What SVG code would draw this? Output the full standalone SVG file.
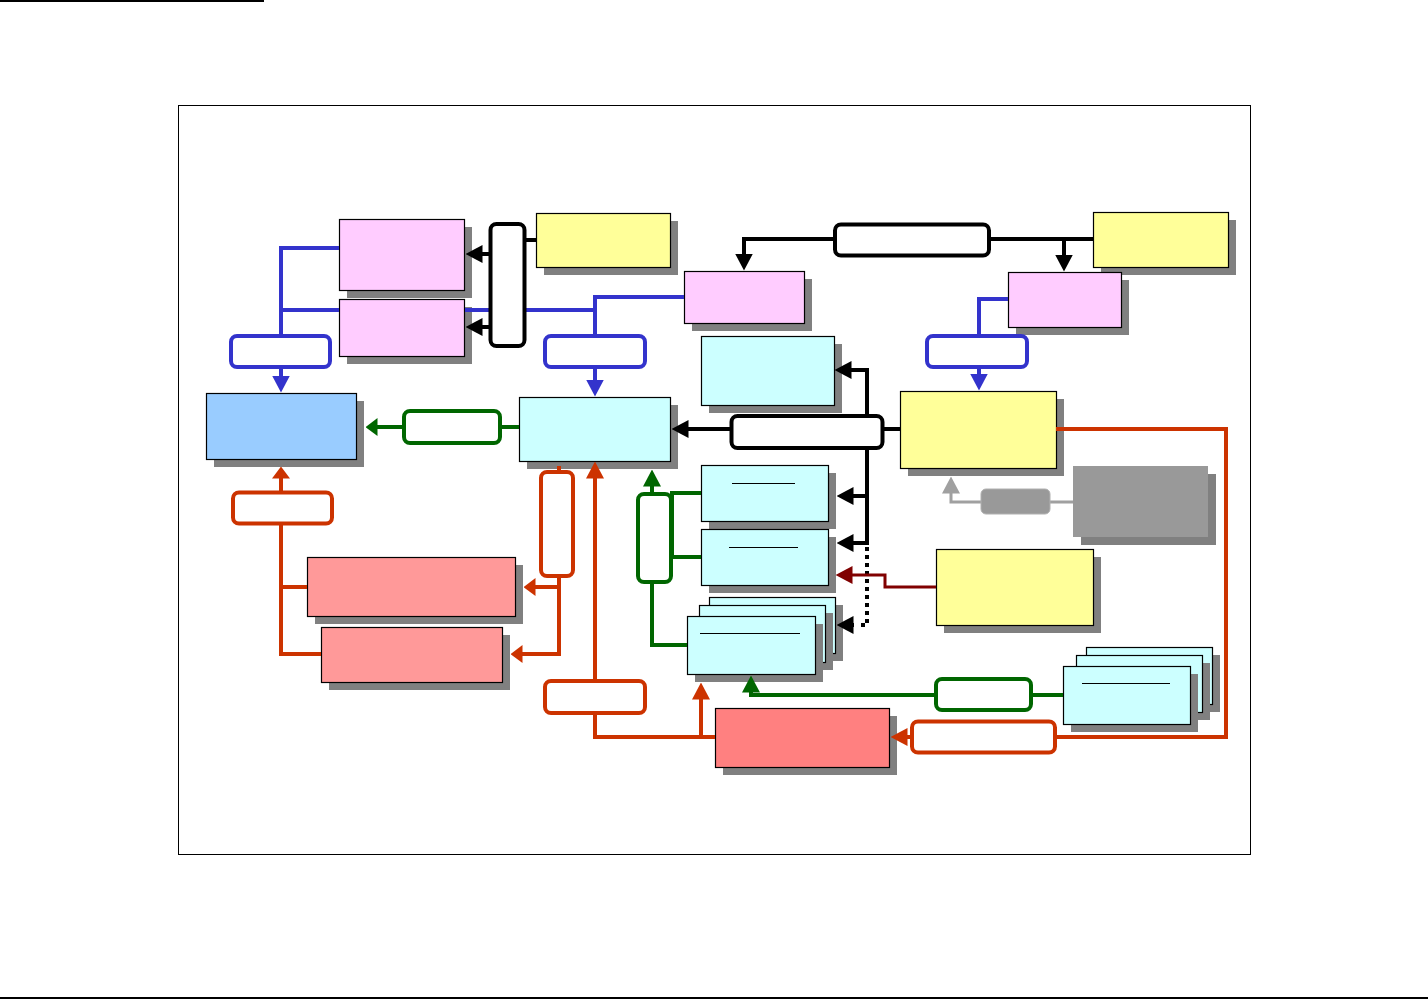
<svg xmlns="http://www.w3.org/2000/svg" width="1428" height="999" viewBox="0 0 1428 999">
<style>
.sh{fill:#808080}
.bx{stroke:#000;stroke-width:1.2}
.pk{fill:#FFCCFF}.yl{fill:#FFFF99}.cy{fill:#CCFFFF}.lb{fill:#99CCFF}.pr{fill:#FF9999}.rd{fill:#FF8080}.gy{fill:#999999}
.c{fill:none;stroke-width:4;stroke-linejoin:miter}
.bl{stroke:#3333CC}.bk{stroke:#000}.gn{stroke:#006600}.re{stroke:#CC3300}.dr{stroke:#800000;stroke-width:3}.gr{stroke:#A0A0A0;stroke-width:3}
.pill{fill:#fff;stroke-width:4}
.ul{stroke:#000;stroke-width:1}
</style>
<defs>
<marker id="aBl" viewBox="0 0 17 18" markerWidth="17" markerHeight="18" refX="0.5" refY="9" orient="auto" markerUnits="userSpaceOnUse"><path d="M0,0 L17,9 L0,18 z" fill="#3333CC"/></marker>
<marker id="aBk" viewBox="0 0 17 18" markerWidth="17" markerHeight="18" refX="0.5" refY="9" orient="auto" markerUnits="userSpaceOnUse"><path d="M0,0 L17,9 L0,18 z" fill="#000"/></marker>
<marker id="aGn" viewBox="0 0 17 18" markerWidth="17" markerHeight="18" refX="0.5" refY="9" orient="auto" markerUnits="userSpaceOnUse"><path d="M0,0 L17,9 L0,18 z" fill="#006600"/></marker>
<marker id="aRe" viewBox="0 0 17 18" markerWidth="17" markerHeight="18" refX="0.5" refY="9" orient="auto" markerUnits="userSpaceOnUse"><path d="M0,0 L17,9 L0,18 z" fill="#CC3300"/></marker>
<marker id="aGnS" viewBox="0 0 12 18" markerWidth="12" markerHeight="18" refX="0.5" refY="9" orient="auto" markerUnits="userSpaceOnUse"><path d="M0,0 L12,9 L0,18 z" fill="#006600"/></marker>
<marker id="aReS" viewBox="0 0 12 18" markerWidth="12" markerHeight="18" refX="0.5" refY="9" orient="auto" markerUnits="userSpaceOnUse"><path d="M0,0 L12,9 L0,18 z" fill="#CC3300"/></marker>
<marker id="aDr" viewBox="0 0 17 18" markerWidth="17" markerHeight="18" refX="0.5" refY="9" orient="auto" markerUnits="userSpaceOnUse"><path d="M0,0 L17,9 L0,18 z" fill="#800000"/></marker>
<marker id="aGr" viewBox="0 0 17 18" markerWidth="17" markerHeight="18" refX="0.5" refY="9" orient="auto" markerUnits="userSpaceOnUse"><path d="M0,0 L17,9 L0,18 z" fill="#A0A0A0"/></marker>
</defs>
<rect width="1428" height="999" fill="#fff"/>
<line x1="0" y1="1" x2="264" y2="1" stroke="#000" stroke-width="2"/>
<line x1="0" y1="998" x2="1428" y2="998" stroke="#000" stroke-width="2"/>
<rect x="178.5" y="105.5" width="1072" height="749" fill="none" stroke="#000" stroke-width="1"/>

<g id="pinkA"><rect class="sh" x="347" y="227" width="125" height="71"/><rect class="bx pk" x="339.5" y="219.5" width="125" height="71"/></g>
<g id="pinkB"><rect class="sh" x="347" y="307" width="125" height="57"/><rect class="bx pk" x="339.5" y="299.5" width="125" height="57"/></g>
<g id="yellowTop"><rect class="sh" x="544" y="221" width="134" height="54"/><rect class="bx yl" x="536.5" y="213.5" width="134" height="54"/></g>
<g id="pinkTopMid"><rect class="sh" x="692" y="279" width="120" height="52"/><rect class="bx pk" x="684.5" y="271.5" width="120" height="52"/></g>
<g id="yellowTopRight"><rect class="sh" x="1101" y="220" width="135" height="55"/><rect class="bx yl" x="1093.5" y="212.5" width="135" height="55"/></g>
<g id="pinkTopRight"><rect class="sh" x="1016" y="280" width="113" height="55"/><rect class="bx pk" x="1008.5" y="272.5" width="113" height="55"/></g>
<g id="cyanUpper"><rect class="sh" x="709" y="344" width="133" height="69"/><rect class="bx cy" x="701.5" y="336.5" width="133" height="69"/></g>
<g id="blueBox"><rect class="sh" x="214" y="401" width="150" height="66"/><rect class="bx lb" x="206.5" y="393.5" width="150" height="66"/></g>
<g id="cyanMain"><rect class="sh" x="527" y="405" width="151" height="64"/><rect class="bx cy" x="519.5" y="397.5" width="151" height="64"/></g>
<g id="yellowMidRight"><rect class="sh" x="908" y="399" width="156" height="77"/><rect class="bx yl" x="900.5" y="391.5" width="156" height="77"/></g>
<g id="cyan2"><rect class="sh" x="709" y="473" width="127" height="56"/><rect class="bx cy" x="701.5" y="465.5" width="127" height="56"/><line class="ul" x1="732" y1="483.5" x2="795" y2="483.5"/></g>
<g id="cyan3"><rect class="sh" x="709" y="537" width="127" height="56"/><rect class="bx cy" x="701.5" y="529.5" width="127" height="56"/><line class="ul" x1="729" y1="547.5" x2="798" y2="547.5"/></g>
<g id="stackLeft">
<rect class="sh" x="717" y="605" width="126" height="56"/><rect class="bx cy" x="709.5" y="597.5" width="126" height="56"/>
<rect class="sh" x="707" y="613" width="126" height="57"/><rect class="bx cy" x="699.5" y="605.5" width="126" height="57"/>
<rect class="sh" x="695" y="624" width="128" height="58"/><rect class="bx cy" x="687.5" y="616.5" width="128" height="58"/>
<line class="ul" x1="700" y1="633.5" x2="800" y2="633.5"/></g>
<g id="grayBox"><rect class="sh" x="1081" y="474" width="135" height="71"/><rect class="gy" x="1073" y="466" width="135" height="71"/></g>
<g id="yellowLower"><rect class="sh" x="944" y="557" width="157" height="76"/><rect class="bx yl" x="936.5" y="549.5" width="157" height="76"/></g>
<g id="stackRight">
<rect class="sh" x="1094" y="655" width="126" height="57"/><rect class="bx cy" x="1086.5" y="647.5" width="126" height="57"/>
<rect class="sh" x="1084" y="663" width="126" height="57"/><rect class="bx cy" x="1076.5" y="655.5" width="126" height="57"/>
<rect class="sh" x="1071" y="674" width="127" height="58"/><rect class="bx cy" x="1063.5" y="666.5" width="127" height="58"/>
<line class="ul" x1="1082" y1="683.5" x2="1170" y2="683.5"/></g>
<g id="redBox"><rect class="sh" x="723" y="716" width="174" height="59"/><rect class="bx rd" x="715.5" y="708.5" width="174" height="59"/></g>
<g id="pinkRed1"><rect class="sh" x="315" y="565" width="208" height="59"/><rect class="bx pr" x="307.5" y="557.5" width="208" height="59"/></g>
<g id="pinkRed2"><rect class="sh" x="329" y="635" width="181" height="55"/><rect class="bx pr" x="321.5" y="627.5" width="181" height="55"/></g>

<g id="connectors">
<path class="c bl" d="M339,248 H281 V376" marker-end="url(#aBl)"/>
<path class="c bl" d="M684,297 H595 V380" marker-end="url(#aBl)"/>
<path class="c bl" d="M595,310 H507"/>
<path class="c bl" d="M490,310 H465"/>
<path class="c bl" d="M339,310 H281"/>
<path class="c bl" d="M1008,299 H979 V374" marker-end="url(#aBl)"/>
<path class="c bk" d="M1093,239 H744 V254" marker-end="url(#aBk)"/>
<path class="c bk" d="M1064,239 V255" marker-end="url(#aBk)"/>
<path class="c bk" d="M536,240 H507"/>
<path class="c bk" d="M507,254 H482" marker-end="url(#aBk)"/>
<path class="c bk" d="M507,327 H482" marker-end="url(#aBk)"/>
<path class="c bk" d="M900,429 H688" marker-end="url(#aBk)"/>
<path class="c bk" d="M867,430 V370 H851" marker-end="url(#aBk)"/>
<path class="c bk" d="M867,430 V543 H853" marker-end="url(#aBk)"/>
<path class="c bk" d="M867,496 H853" marker-end="url(#aBk)"/>
<path class="c bk" d="M867,547 V625 H858" stroke-dasharray="4 4"/>
<path class="c bk" d="M854,625 H853" marker-end="url(#aBk)"/>
<path class="c gn" d="M519,427 H377" marker-end="url(#aGnS)"/>
<path class="c gn" d="M701,493 H672 V557 H701"/>
<path class="c gn" d="M652,494 V486" marker-end="url(#aGn)"/>
<path class="c gn" d="M652,583 V645 H687"/>
<path class="c gn" d="M1063,695 H751 V692" marker-end="url(#aGn)"/>
<path class="c re" d="M1056,429 H1226 V737 H907" marker-end="url(#aRe)"/>
<path class="c re" d="M715,737 H595 V478" marker-end="url(#aRe)"/>
<path class="c re" d="M701,737 V699" marker-end="url(#aRe)"/>
<path class="c re" d="M559,466 V654 H522" marker-end="url(#aReS)"/>
<path class="c re" d="M559,587 H535" marker-end="url(#aReS)"/>
<path class="c re" d="M307,587 H281"/>
<path class="c re" d="M321,654 H281 V478" marker-end="url(#aReS)"/>
<path class="c dr" d="M936,587 H885 V575 H852" marker-end="url(#aDr)"/>
<path class="c gr" d="M1073,502 H951 V493" marker-end="url(#aGr)"/>
<rect class="pill" stroke="#3333CC" x="231" y="336" width="99" height="31" rx="6"/>
<rect class="pill" stroke="#3333CC" x="545" y="336" width="100" height="31" rx="6"/>
<rect class="pill" stroke="#3333CC" x="927" y="336" width="100" height="31" rx="6"/>
<rect class="pill" stroke="#000" x="835" y="224.5" width="154" height="31" rx="6"/>
<rect class="pill" stroke="#000" x="490.5" y="224" width="34" height="122" rx="6"/>
<rect class="pill" stroke="#000" x="731.5" y="416" width="151" height="32" rx="6"/>
<rect class="pill" stroke="#006600" x="404" y="411" width="96" height="32" rx="6"/>
<rect class="pill" stroke="#006600" x="638" y="494" width="33" height="88" rx="6"/>
<rect class="pill" stroke="#006600" x="936" y="679" width="95" height="31" rx="6"/>
<rect class="pill" stroke="#CC3300" x="912" y="721.5" width="143" height="31" rx="6"/>
<rect class="pill" stroke="#CC3300" x="545" y="681" width="100" height="32" rx="6"/>
<rect class="pill" stroke="#CC3300" x="541" y="472" width="32" height="104" rx="6"/>
<rect class="pill" stroke="#CC3300" x="233" y="492.5" width="99" height="31" rx="6"/>
<rect x="981" y="489" width="69" height="25" rx="5" fill="#999999" stroke="#B0B0B0" stroke-width="1"/>
</g>
</svg>
